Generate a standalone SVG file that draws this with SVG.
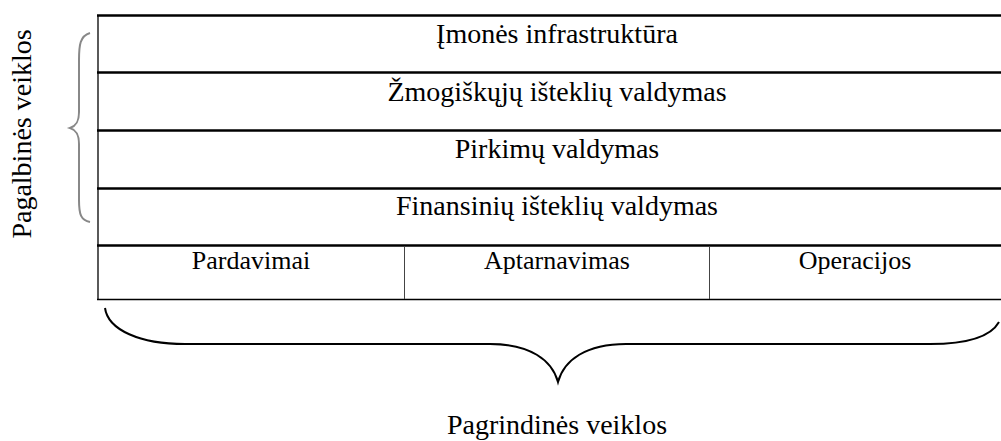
<svg xmlns="http://www.w3.org/2000/svg" width="1001" height="441" viewBox="0 0 1001 441">
<style>
text{font-family:'Liberation Serif','Times New Roman','DejaVu Serif',serif;fill:#000;text-anchor:middle}
.big{font-size:28px}
.sm{font-size:26px}
.h{stroke:#000;stroke-width:2.5;fill:none}
.v{stroke:#000;stroke-width:1.3;fill:none}
.d{stroke:#444;stroke-width:1;fill:none}
</style>
<rect width="1001" height="441" fill="#fff"/>
<g id="table">
<line class="v" x1="98" y1="15" x2="98" y2="299.5"/>
<line class="h" x1="97" y1="15.5" x2="1001" y2="15.5"/>
<line class="h" x1="97" y1="72.5" x2="1001" y2="72.5"/>
<line class="h" x1="97" y1="130.5" x2="1001" y2="130.5"/>
<line class="h" x1="97" y1="188.5" x2="1001" y2="188.5"/>
<line class="h" x1="97" y1="245.5" x2="1001" y2="245.5"/>
<line class="v" x1="97" y1="299.5" x2="1001" y2="299.5"/>
<line class="d" x1="404.5" y1="246" x2="404.5" y2="299"/>
<line class="d" x1="709.5" y1="246" x2="709.5" y2="299"/>
</g>
<g id="n1"><text class="big" x="557" y="43">Įmonės infrastruktūra</text></g>
<g id="n2"><text class="big" x="557" y="101">Žmogiškųjų išteklių valdymas</text></g>
<g id="n3"><text class="big" x="557" y="158">Pirkimų valdymas</text></g>
<g id="n4"><text class="big" x="557" y="215">Finansinių išteklių valdymas</text></g>
<g id="c1"><text class="sm" x="251" y="269">Pardavimai</text></g>
<g id="c2"><text class="sm" x="557" y="269">Aptarnavimas</text></g>
<g id="c3"><text class="sm" x="855" y="269">Operacijos</text></g>
<g id="braces">
<path d="M90,33 C80,36 79,45 79,60 L79,112 C79,122 76,126 70,128 C76,130 79,134 79,144 L79,200 C79,215 81,220 90,222" fill="none" stroke="#888" stroke-width="2"/>
<path d="M105,308 C108,330 140,344 185,344 L490,344 C530,344 552,360 558,382 C564,360 586,344 626,344 L930,344 C965,344 990,338 999,322" fill="none" stroke="#000" stroke-width="2"/>
</g>
<g id="labels">
<text class="big" transform="translate(31,134) rotate(-90)" x="0" y="0">Pagalbinės veiklos</text>
<text class="big" x="557" y="434">Pagrindinės veiklos</text>
</g>
</svg>
